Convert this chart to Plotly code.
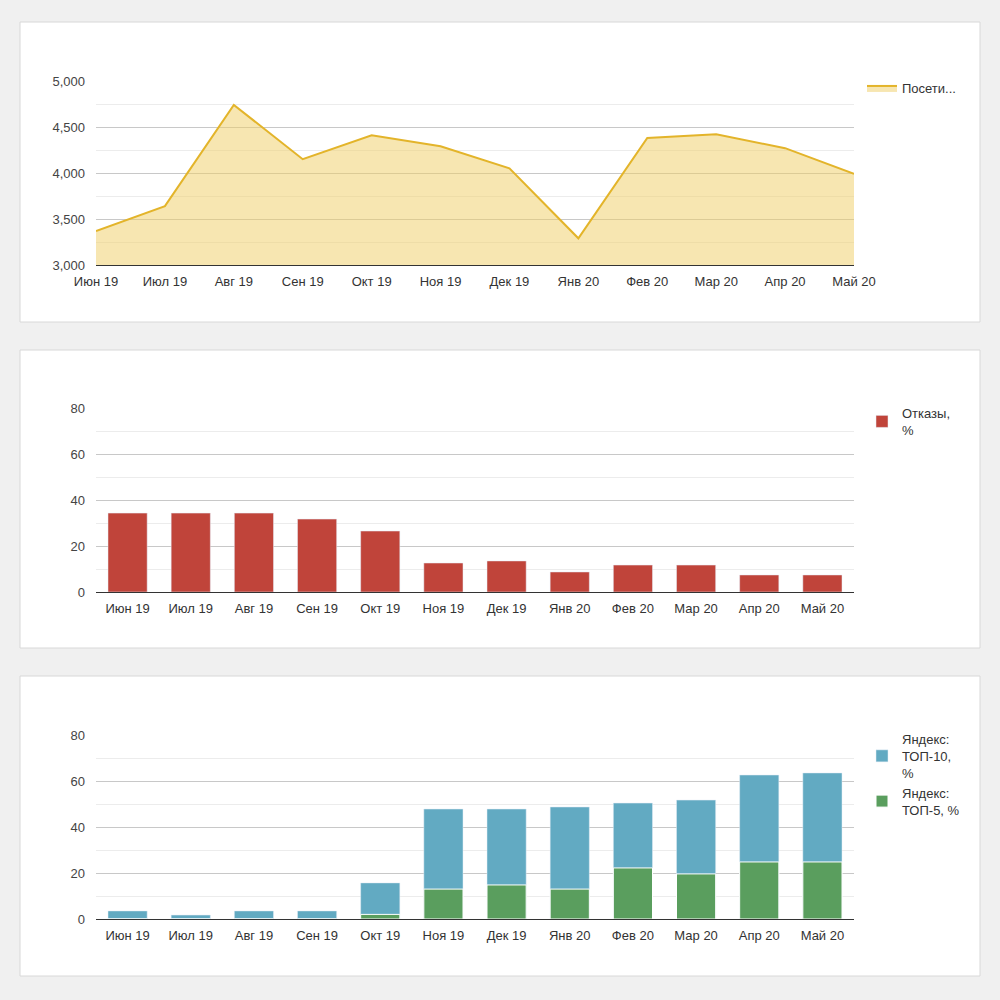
import plotly.graph_objects as go

months = ["Июн 19","Июл 19","Авг 19","Сен 19","Окт 19","Ноя 19","Дек 19","Янв 20","Фев 20","Мар 20","Апр 20","Май 20"]
visits = [3370,3640,4740,4150,4410,4290,4050,3290,4380,4420,4270,3990]
bounce = [34.3,34.3,34.3,31.7,26.5,12.6,13.5,8.7,11.7,11.7,7.4,7.4]
top10 = [3.5,1.7,3.5,3.5,15.7,47.8,47.8,48.7,50.4,51.7,62.6,63.5]
top5 = [0,0,0,0,2,13,14.8,13,22.2,19.6,24.8,24.8]

idx = list(range(len(months)))
font = dict(family="Liberation Sans", size=13, color="#333")
fig = go.Figure()

fig.add_trace(go.Scatter(x=idx, y=visits, mode="lines", fill="tozeroy", name="Посети...",
    line=dict(color="#e3b42a", width=2), fillcolor="rgba(240,205,100,0.5)",
    xaxis="x", yaxis="y", legend="legend", showlegend=True))
fig.add_trace(go.Bar(x=idx, y=bounce, name="Отказы,<br>%", marker=dict(color="#c0443a"),
    width=0.62, xaxis="x2", yaxis="y2", legend="legend2"))
fig.add_trace(go.Bar(x=idx, y=top10, name="Яндекс:<br>ТОП-10,<br>%", marker=dict(color="#62aac2"),
    width=0.62, xaxis="x3", yaxis="y3", legend="legend3"))
fig.add_trace(go.Bar(x=idx, y=top5, name="Яндекс:<br>ТОП-5, %", marker=dict(color="#5a9e5e", line=dict(color="white", width=1)),
    width=0.62, xaxis="x3", yaxis="y3", legend="legend3"))

xd = [0.096, 0.854]
def xax(anchor, rng):
    return dict(domain=xd, anchor=anchor, range=rng, tickvals=idx, ticktext=months, showgrid=False,
                showline=True, linecolor="#333", linewidth=1, ticks="", tickfont=font, zeroline=False,
                ticklabelstandoff=4, automargin=False)
def yax(dom, rng, dtick, fmt):
    return dict(domain=dom, range=rng, dtick=dtick, tickformat=fmt, gridcolor="#c8c8c8", zeroline=False,
                tickfont=dict(family="Liberation Sans", size=13, color="#444"), ticks="",
                ticklabelstandoff=10, automargin=False,
                minor=dict(dtick=dtick/2, showgrid=True, gridcolor="#ececec"), fixedrange=True)

shapes = []
for y0, y1 in [(22, 322), (350, 648), (676, 976)]:
    shapes.append(dict(type="rect", xref="paper", yref="paper", x0=0.02, x1=0.98,
                       y0=1 - y1/1000, y1=1 - y0/1000, fillcolor="white",
                       line=dict(color="#d8d8d8", width=1), layer="below"))

leg = lambda y: dict(x=0.862, y=y, xanchor="left", yanchor="top", bgcolor="rgba(0,0,0,0)",
                     font=font, tracegroupgap=8, visible=True, itemwidth=30)
fig.update_layout(
    width=1000, height=1000, margin=dict(l=0, r=0, t=0, b=0, autoexpand=False), showlegend=True,
    paper_bgcolor="#f0f0f0", plot_bgcolor="rgba(0,0,0,0)", shapes=shapes,
    barmode="overlay", font=font,
    xaxis=xax("y", [0, 11]), yaxis=yax([0.735, 0.919], [3000, 5000], 500, ","),
    xaxis2=xax("y2", [-0.5, 11.5]), yaxis2=yax([0.408, 0.592], [0, 80], 20, ""),
    xaxis3=xax("y3", [-0.5, 11.5]), yaxis3=yax([0.081, 0.265], [0, 80], 20, ""),
    legend=leg(0.927), legend2=leg(0.602), legend3=leg(0.276),
)
fig.write_html("out.html", config=dict(displayModeBar=False),
               post_script="document.body.style.margin='0';document.body.style.overflow='hidden';")
